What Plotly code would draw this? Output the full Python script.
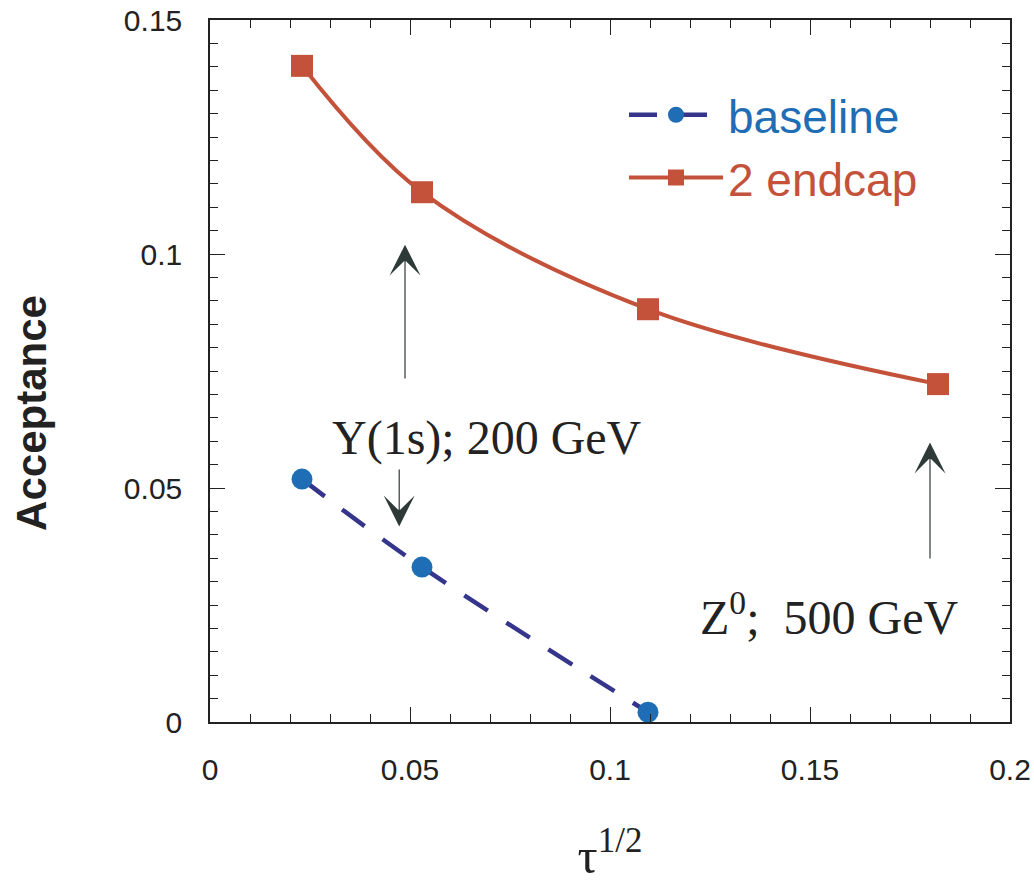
import plotly.graph_objects as go

# Data
tau_sqrt_endcap = [0.023, 0.053, 0.1095, 0.182]
acc_endcap = [0.1402, 0.1132, 0.0882, 0.0722]

tau_sqrt_baseline = [0.023, 0.053, 0.1095]
acc_baseline = [0.0519, 0.0331, 0.0021]

x_range = [0, 0.2]
y_range = [0, 0.15]

BLUE_MK = "#1f6db4"
NAVY = "#35358c"
RED = "#c4523a"
ARROW = "#2e3a38"

fig = go.Figure()

fig.add_trace(go.Scatter(
    x=tau_sqrt_baseline, y=acc_baseline, mode="lines+markers",
    name='<span style="color:#1f6db4">baseline</span>',
    line=dict(color=NAVY, width=4.5, dash="28px,22px", shape="spline"),
    marker=dict(color=BLUE_MK, size=21, symbol="circle"),
))
fig.add_trace(go.Scatter(
    x=tau_sqrt_endcap, y=acc_endcap, mode="lines+markers",
    name='<span style="color:#c4523a">2 endcap</span>',
    line=dict(color=RED, width=4, shape="spline"),
    marker=dict(color=RED, size=22, symbol="square"),
))

axis_common = dict(
    showgrid=False, zeroline=False, showline=True, linecolor="#222",
    linewidth=1.5, mirror="ticks", ticks="inside", ticklen=15,
    tickwidth=1.3, tickcolor="#222", automargin=False, tick0=0, dtick=0.05,
    ticklabeloverflow="allow",
    tickfont=dict(family="Liberation Sans, Arial, sans-serif", size=30, color="#222"),
)

fig.update_xaxes(
    range=x_range,
    minor=dict(dtick=0.01, ticks="inside", ticklen=8, tickwidth=1.3, tickcolor="#222"),
    ticklabelstandoff=20,
    title=dict(text="τ<sup>1/2</sup>",
               font=dict(family="Liberation Serif, Times New Roman, serif", size=50, color="#222"),
               standoff=58),
    **axis_common,
)
fig.update_yaxes(
    range=y_range,
    minor=dict(dtick=0.005, ticks="inside", ticklen=8, tickwidth=1.3, tickcolor="#222"),
    ticklabelstandoff=20,
    **axis_common,
)

# y-axis title placed as a rotated annotation (sits lower than the plot centre in the reference)
fig.add_annotation(x=-0.224, y=0.44, xref="paper", yref="paper", text="<b>Acceptance</b>",
                   textangle=-90, showarrow=False, xanchor="center", yanchor="middle",
                   font=dict(family="Liberation Sans, Arial, sans-serif", size=42, color="#222"))

# Arrows (tip x, tip y, tail x, tail y)
arrows = [
    (0.04875, 0.1020, 0.04875, 0.0731),
    (0.0473, 0.0418, 0.0473, 0.0543),
    (0.18, 0.0597, 0.18, 0.0346),
]
for x, y, ax, ay in arrows:
    fig.add_annotation(x=x, y=y, ax=ax, ay=ay, xref="x", yref="y", axref="x", ayref="y",
                       text="", showarrow=True, arrowhead=3, arrowsize=4.3, arrowwidth=1.2,
                       arrowcolor=ARROW, standoff=0, startstandoff=0)

serif = dict(family="Liberation Serif, Times New Roman, serif", size=48, color="#222")
fig.add_annotation(x=0.0693, y=0.0607, xref="x", yref="y", text="Y(1s); 200 GeV",
                   showarrow=False, font=serif)
fig.add_annotation(x=0.1548, y=0.0231, xref="x", yref="y",
                   text="Z<sup>0</sup>;\u00a0\u00a0500 GeV", showarrow=False, font=serif)

fig.update_layout(
    width=1034, height=884,
    margin=dict(l=210, r=24, t=20, b=162),
    paper_bgcolor="white", plot_bgcolor="white",
    legend=dict(x=0.5175, y=0.82, xanchor="left", yanchor="middle",
                font=dict(family="Liberation Sans, Arial, sans-serif", size=46),
                itemwidth=94, bgcolor="rgba(0,0,0,0)", tracegroupgap=0),
    showlegend=True,
)

fig.write_html("out.html", config={"displayModeBar": False},
               post_script="document.body.style.margin='0';")
